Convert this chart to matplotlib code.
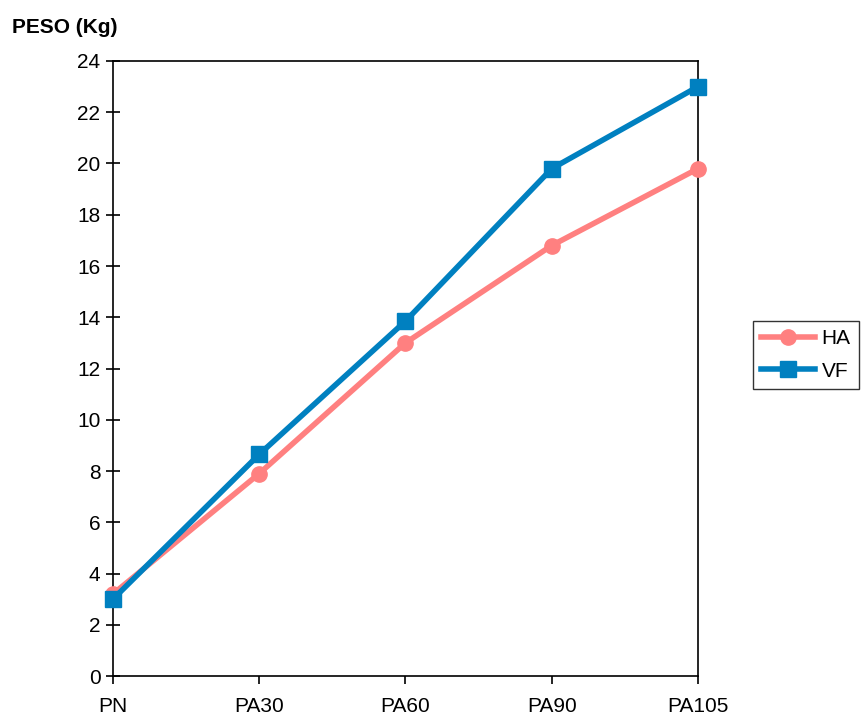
import matplotlib.pyplot as plt

plt.rcParams['font.family'] = ['Liberation Sans', 'DejaVu Sans']

# Datos
categorias = ['PN', 'PA30', 'PA60', 'PA90', 'PA105']
peso_ha = [3.2, 7.9, 13.0, 16.8, 19.8]
peso_vf = [3.0, 8.65, 13.85, 19.8, 23.0]

fig = plt.figure(figsize=(8.61, 7.15), dpi=100)
ax = fig.add_axes([0.1312, 0.0545, 0.6795, 0.8602])

x = range(len(categorias))
ax.plot(x, peso_ha, color='#FF8080', lw=4, marker='o', ms=11, label='HA', clip_on=False, zorder=3)
ax.plot(x, peso_vf, color='#0080C0', lw=4, marker='s', ms=11, label='VF', clip_on=False, zorder=4)

ax.set_xlim(0, len(categorias) - 1)
ax.set_ylim(0, 24)
ax.set_yticks(range(0, 25, 2))
ax.set_xticks(list(x))
ax.set_xticklabels(categorias)

for s in ax.spines.values():
    s.set_linewidth(1.2)
ax.tick_params(axis='y', direction='inout', length=10, width=1.2, labelsize=15, pad=4)
ax.tick_params(axis='x', direction='out', length=6, width=1.2, labelsize=15, pad=9)

fig.text(0.014, 0.962, 'PESO (Kg)', fontsize=15, fontweight='bold', va='center', ha='left')

leg = ax.legend(loc='center left', bbox_to_anchor=(0.8745, 0.5035), bbox_transform=fig.transFigure,
                frameon=True, fancybox=False, fontsize=15, handlelength=2.6,
                borderpad=0.4, labelspacing=0.65, handletextpad=0.3, borderaxespad=0)
leg.get_frame().set_edgecolor('black')
leg.get_frame().set_linewidth(1.0)

fig.savefig('out.png', dpi=100)
